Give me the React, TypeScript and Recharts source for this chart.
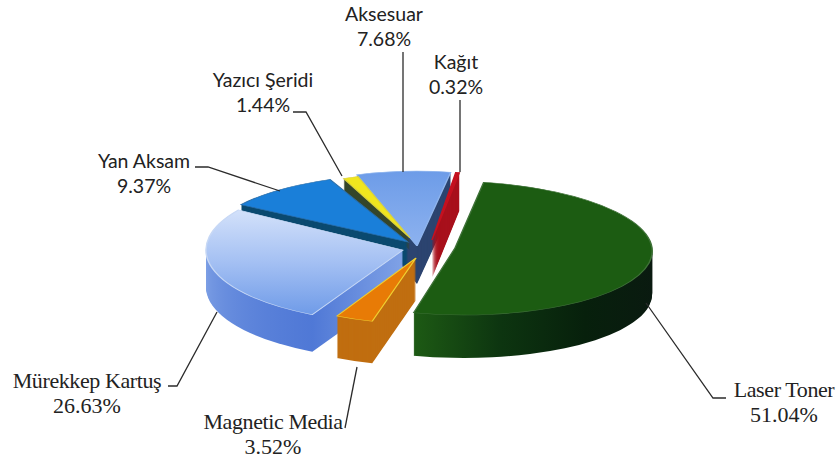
import React from 'react'
import { PieChart, Pie, Sector } from 'recharts'

const names = ['Laser Toner', 'Magnetic Media', 'Mürekkep Kartuş', 'Yan Aksam', 'Yazıcı Şeridi', 'Aksesuar', 'Kağıt']
const shares = [51.04, 3.52, 26.63, 9.37, 1.44, 7.68, 0.32]

// first slice starts this far round from 12 o'clock (clockwise)
const START_CLOCK = 11

const tops = ['#1c5c12', '#e87b06', 'url(#murTop)', '#1a7fd9', '#f0e61e', 'url(#aksTop)', '#c4111f']
const walls = ['url(#laserWall)', '#c06e10', 'url(#murWall)', '#0b4a70', '#34452a', '#2c4470', '#a8101c']
const edges = ['#3f7238', '#f0d030', '#c7d8f5', '#2a6da8', '#d8d040', '#8fb5ee', '#c4111f']
const explodeX = [35, -4, -17, -12, -10, -3, 12]
const explodeY = [3, 13, 5, -3, -7, 1, -5]
const radii = [197, 172, 197, 200, 170, 197, 181]
const squash = [0.34, 0.38, 0.37, 0.34, 0.38, 0.38, 0.38]
const skews = [7.7, 0, 0, 0, 0, 0, 6]
const depths = [43, 42, 37, 24, 12, 38, 38]

// back to front
const paintOrder = ['Aksesuar', 'Kağıt', 'Laser Toner', 'Yazıcı Şeridi', 'Yan Aksam', 'Mürekkep Kartuş', 'Magnetic Media']

const fontSans = 'Lato, sans-serif'
const fontSerif = '"Liberation Serif", serif'

const labelX = [784, 273, 87, 144, 263, 384, 456]
const labelY = [397, 429, 388, 168, 87, 21, 69]
const labelFonts = [fontSerif, fontSerif, fontSerif, fontSans, fontSans, fontSans, fontSans]
const leaders = [
  '646,303 713,398 726,398',
  '345,428 357,367',
  '168,386 177,386 217,312',
  '195,167 208,167 280,191',
  '293,112 306,112 342,176',
  '403,52 403,172',
  '460,100 460,172',
]

const tableData = names.map((name, i) => ({ name, value: shares[i] }))

function Slice(props: any) {
  const { cx, cy, startAngle, endAngle, index } = props
  const r = radii[index]
  const place = (d: number) =>
    `translate(${explodeX[index]},${explodeY[index] + d}) translate(${cx},${cy}) skewX(${skews[index]}) scale(1,${squash[index]}) translate(${-cx},${-cy})`
  const layers = []
  for (let d = depths[index]; d > 0; d--) {
    layers.push(
      <g key={d} transform={place(d)}>
        <Sector cx={cx} cy={cy} innerRadius={0} outerRadius={r} startAngle={startAngle} endAngle={endAngle} fill={walls[index]} stroke="none" />
      </g>,
    )
  }
  return (
    <g>
      {layers}
      <g transform={place(0)}>
        <Sector cx={cx} cy={cy} innerRadius={0} outerRadius={r} startAngle={startAngle} endAngle={endAngle} fill={tops[index]} stroke={edges[index]} strokeWidth={1.5} />
      </g>
    </g>
  )
}

// one pie per paint pass, each one only drawing its own slice
const onlySlice = (name: string) => (props: any) => (names[props.index] === name ? <Slice {...props} /> : null)

function SliceLabel(props: any) {
  const { index } = props
  const serif = labelFonts[index] === fontSerif
  const size = serif ? 22 : 19.5
  return (
    <g>
      <polyline points={leaders[index]} fill="none" stroke="#2b2b2b" strokeWidth={1.3} />
      <text
        x={labelX[index]}
        y={labelY[index]}
        textAnchor="middle"
        fontFamily={labelFonts[index]}
        fontSize={size}
        letterSpacing={serif ? -0.4 : 0}
        fill="#222"
      >
        {names[index]}
      </text>
      <text
        x={labelX[index]}
        y={labelY[index] + 25}
        textAnchor="middle"
        fontFamily={labelFonts[index]}
        fontSize={size}
        fill="#222"
      >
        {shares[index].toFixed(2)}%
      </text>
    </g>
  )
}

export default function App() {
  const startAngle = 90 - START_CLOCK
  const endAngle = startAngle - 360
  return (
    <div style={{ position: 'absolute', left: 0, top: 0, width: 838, height: 463, background: '#fff' }}>
      <PieChart width={838} height={463} margin={{ top: 0, right: 0, bottom: 0, left: 0 }}>
        <defs>
          <linearGradient id="murTop" x1="0" y1="0" x2="0" y2="1">
            <stop offset="0%" stopColor="#d3e1fa" />
            <stop offset="50%" stopColor="#a4c0f3" />
            <stop offset="100%" stopColor="#6f9be8" />
          </linearGradient>
          <linearGradient id="murWall" x1="0" y1="0" x2="0" y2="1">
            <stop offset="0%" stopColor="#9dbbef" />
            <stop offset="100%" stopColor="#4f78d6" />
          </linearGradient>
          <linearGradient id="aksTop" x1="0" y1="0" x2="0" y2="1">
            <stop offset="0%" stopColor="#6d9ce8" />
            <stop offset="100%" stopColor="#8db2ef" />
          </linearGradient>
          <linearGradient id="laserWall" x1="0" y1="0" x2="1" y2="0">
            <stop offset="0%" stopColor="#1d5a14" />
            <stop offset="35%" stopColor="#0d3510" />
            <stop offset="70%" stopColor="#07200c" />
            <stop offset="100%" stopColor="#0a1a10" />
          </linearGradient>
        </defs>
        {paintOrder.map((name, i) => (
          <Pie
            key={name}
            data={tableData}
            dataKey="value"
            nameKey="name"
            cx={420}
            cy={245}
            outerRadius={197}
            startAngle={startAngle}
            endAngle={endAngle}
            stroke="none"
            isAnimationActive={false}
            shape={onlySlice(name)}
            label={i === paintOrder.length - 1 ? SliceLabel : false}
            labelLine={false}
          />
        ))}
      </PieChart>
    </div>
  )
}
